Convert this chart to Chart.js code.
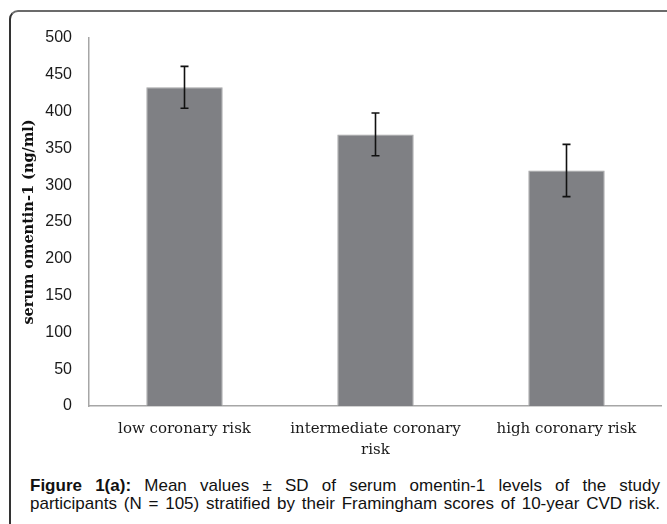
<!doctype html>
<html>
<head>
<meta charset="utf-8">
<title>serum omentin-1 by coronary risk</title>
<script src="https://cdn.jsdelivr.net/npm/chart.js"></script>
<style>
  body { margin: 0; background: #fff; width: 667px; height: 524px; overflow: hidden; position: relative; font-family: "Liberation Sans", Arial, sans-serif; }
  .frame { position: absolute; left: 9px; top: 10px; width: 656px; height: 520px; border-top: 2px solid #6b6b6b; border-left: 2px solid #333; border-top-left-radius: 9px; }
  .chart { position: absolute; left: 12px; top: 20px; width: 650px; height: 445px; }
  .caption { position: absolute; left: 30px; top: 477px; width: 630px; font-size: 17px; line-height: 18px; color: #111; }
  .caption div { text-align: justify; text-align-last: justify; white-space: nowrap; }
</style>
</head>
<body>
<div class="frame"></div>
<div class="chart"><canvas id="c"></canvas></div>
<div class="caption">
  <div><b>Figure 1(a):</b> Mean values ± SD of serum omentin-1 levels of the study</div>
  <div>participants (N = 105) stratified by their Framingham scores of 10-year CVD risk.</div>
</div>
<script>
const categories = [['low coronary risk'], ['intermediate coronary', 'risk'], ['high coronary risk']];
const meanValues = [433, 369, 320];
const sdValues = [28.5, 29, 35.5];
const yTicks = [0, 50, 100, 150, 200, 250, 300, 350, 400, 450, 500];

// draw the ± SD whiskers on top of the bars
const errorBars = {
  id: 'errorBars',
  afterDatasetsDraw(chart) {
    const ctx = chart.ctx;
    const y = chart.scales.y;
    const meta = chart.getDatasetMeta(0);
    ctx.save();
    ctx.strokeStyle = '#111';
    ctx.lineWidth = 1.6;
    meta.data.forEach((bar, i) => {
      const top = y.getPixelForValue(meanValues[i] + sdValues[i]);
      const bot = y.getPixelForValue(meanValues[i] - sdValues[i]);
      ctx.beginPath();
      ctx.moveTo(bar.x, top); ctx.lineTo(bar.x, bot);
      ctx.moveTo(bar.x - 4, top); ctx.lineTo(bar.x + 4, top);
      ctx.moveTo(bar.x - 4, bot); ctx.lineTo(bar.x + 4, bot);
      ctx.stroke();
    });
    ctx.restore();
  }
};

new Chart(document.getElementById('c'), {
  type: 'bar',
  data: {
    labels: categories,
    datasets: [{
      data: meanValues,
      backgroundColor: '#7f8084',
      borderColor: '#a3a3a5',
      borderWidth: 1,
      categoryPercentage: 1,
      barPercentage: 0.4
    }]
  },
  options: {
    responsive: true,
    maintainAspectRatio: false,
    animation: false,
    layout: { padding: { top: 18, right: 0, bottom: 0, left: 0 } },
    plugins: { legend: { display: false }, tooltip: { enabled: false } },
    scales: {
      x: {
        grid: { display: false },
        border: { display: true, color: '#a6a6a6', width: 1.5 },
        ticks: { color: '#1a1a1a', padding: 5, maxRotation: 0, autoSkip: false,
                 font: { family: '"DejaVu Serif", "Liberation Serif", serif', size: 15, lineHeight: 1.4 } },
        afterFit(s) { s.height = 59; }
      },
      y: {
        min: 0, max: 500,
        grid: { display: false },
        border: { display: true, color: '#a6a6a6', width: 1.5 },
        afterBuildTicks(s) { s.ticks = yTicks.map(v => ({ value: v })); },
        ticks: { color: '#1a1a1a', padding: 9,
                 font: { family: '"Liberation Sans", Arial, sans-serif', size: 16 } },
        title: { display: true, text: 'serum omentin-1 (ng/ml)', color: '#111',
                 padding: { top: 9, bottom: 0 },
                 font: { family: '"DejaVu Serif", "Liberation Serif", serif', size: 14.5, weight: 'bold' } },
        afterFit(s) { s.width = 77; s.paddingTop = 0; s.paddingBottom = 0; }
      }
    }
  },
  plugins: [errorBars]
});
</script>
</body>
</html>
